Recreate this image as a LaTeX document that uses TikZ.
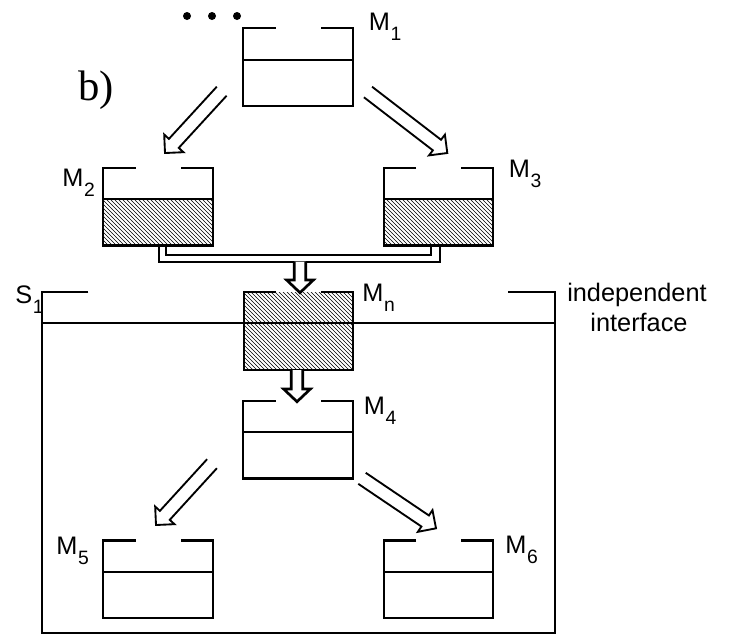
\documentclass[tikz,border=0pt]{standalone}
\usepackage{fontspec}
\setmainfont{Liberation Sans}
\newfontfamily\timesf{Liberation Serif}
\usetikzlibrary{calc,patterns}

\newcommand\lbl[2]{#1\kern0.5pt\raisebox{-7.5pt}{\fontsize{14.5}{15}\selectfont #2}}
% hollow arrow: style, from, to, shaft half width, head half width, head length
\newcommand\harrow[6]{%
  \coordinate (hN) at ($(#3)!#6!(#2)$);
  \draw[#1] ($(#2)!#4!90:(#3)$) -- ($(hN)!#4!90:(#3)$) -- ($(hN)!#5!90:(#3)$) -- (#3)
     -- ($(hN)!#5!-90:(#3)$) -- ($(hN)!#4!-90:(#3)$) -- ($(#2)!#4!-90:(#3)$);
}
\newcommand\tankpath[1]{%
  \draw[ln] ($(#1.north west)+(32.4,0)$) -- (#1.north west) -- (#1.south west) -- (#1.south east) -- (#1.north east) -- ($(#1.north east)+(-31.6,0)$);
}
\newcommand\midline[1]{%
  \draw[ln] ($(#1.north west)+(0,31.3)$) -- ($(#1.north east)+(0,31.3)$);
}

\tikzset{
  ln/.style={line width=1.6pt},
  tank/.style={inner sep=0pt, outer sep=0pt, minimum width=82pt, minimum height=58.1pt, anchor=north west},
  lab/.style={inner sep=0pt, anchor=base west, font=\fontsize{19}{22}\selectfont},
  diag/.style={line width=1.4pt},
  vert/.style={line width=2pt, fill=white},
  hatch/.style={pattern=north west lines},
}

\begin{document}
\begin{tikzpicture}[x=0.75pt,y=-0.75pt]
\useasboundingbox (0,0) rectangle (730,637);

% tanks
\node[tank] (m1) at (243.3,28.3) {};
\node[tank] (m2) at (103.3,168) {};
\node[tank] (m3) at (383.6,168) {};
\node[tank] (mn) at (243.6,292.4) {};
\node[tank] (m4) at (243.3,401) {};
\node[tank] (m5) at (103.3,540.5) {};
\node[tank] (m6) at (383.6,540.5) {};
\node[inner sep=0pt, outer sep=0pt, anchor=north west, minimum width=385pt, minimum height=255.75pt] (s1) at (41.7,292.4) {};

% hatching
\fill[hatch] ($(m2.north west)+(0,31.3)$) rectangle (m2.south east);
\fill[hatch] ($(m3.north west)+(0,31.3)$) rectangle (m3.south east);
\fill[hatch] (mn.north west) rectangle (mn.south east);

% outlines
\tankpath{m1}\midline{m1}
\tankpath{m2}\midline{m2}
\tankpath{m3}\midline{m3}
\tankpath{mn}
\tankpath{m4}\midline{m4}
\tankpath{m5}\midline{m5}
\tankpath{m6}\midline{m6}

% system S1 with interface
\draw[ln] ($(s1.north west)+(46.6,0)$) -- (s1.north west) -- (s1.south west) -- (s1.south east) -- (s1.north east) -- ($(s1.north east)+(-46.7,0)$);
\draw[ln] ($(s1.north west)+(0,31)$) -- ($(s1.north east)+(0,31)$);

% pipe from M2 and M3
\draw[ln] (159.3,245.7) -- (159.3,261.7) -- (440,261.7) -- (440,245.7);
\draw[ln] (165.7,245.7) -- (165.7,255) -- (431,255) -- (431,245.7);

% arrows
\coordinate (a1s) at (221.7,91.2);   \coordinate (a1e) at (165,153);
\coordinate (a2s) at (368,92);       \coordinate (a2e) at (447.3,153);
\coordinate (a3s) at (300,261.7);    \coordinate (a3e) at (300,292.7);
\coordinate (a4s) at (297,370);      \coordinate (a4e) at (297,401.7);
\coordinate (a5s) at (212,463.7);    \coordinate (a5e) at (156,525);
\coordinate (a6s) at (362,478.3);    \coordinate (a6e) at (436,528.3);

\harrow{diag}{a1s}{a1e}{5pt}{9.8pt}{9.8pt}
\harrow{diag}{a2s}{a2e}{5pt}{9.8pt}{9.8pt}
\harrow{diag}{a5s}{a5e}{5pt}{9.8pt}{9.8pt}
\harrow{diag}{a6s}{a6e}{5pt}{9.8pt}{9.8pt}
\harrow{vert}{a3s}{a3e}{4.3pt}{10pt}{9.5pt}
\harrow{vert}{a4s}{a4e}{4.3pt}{10pt}{9.5pt}

% dots
\fill (187,16) circle (3pt);
\fill (212,16) circle (3pt);
\fill (237,16) circle (3pt);

% labels
\node[lab] (l1) at (368.5,30) {\lbl{M}{1}};
\node[lab] (l2) at (62,186) {\lbl{M}{2}};
\node[lab] (l3) at (508.5,177.5) {\lbl{M}{3}};
\node[lab] (ln) at (362,301) {\lbl{M}{n}};
\node[lab] (l4) at (363.5,414) {\lbl{M}{4}};
\node[lab] (l5) at (56,554) {\lbl{M}{5}};
\node[lab] (l6) at (505,553.5) {\lbl{M}{6}};
\node[lab] (ls) at (15,303) {\lbl{S}{1}};
\node[inner sep=0pt, anchor=base west, font=\timesf\fontsize{32}{36}\selectfont] (lb) at (78,100) {b)};
\node[inner sep=0pt, anchor=base, font=\fontsize{19}{22}\selectfont] (ii1) at (637,301.7) {independent};
\node[inner sep=0pt, anchor=base, font=\fontsize{19}{22}\selectfont] (ii2) at (639,331.7) {interface};
\end{tikzpicture}
\end{document}
